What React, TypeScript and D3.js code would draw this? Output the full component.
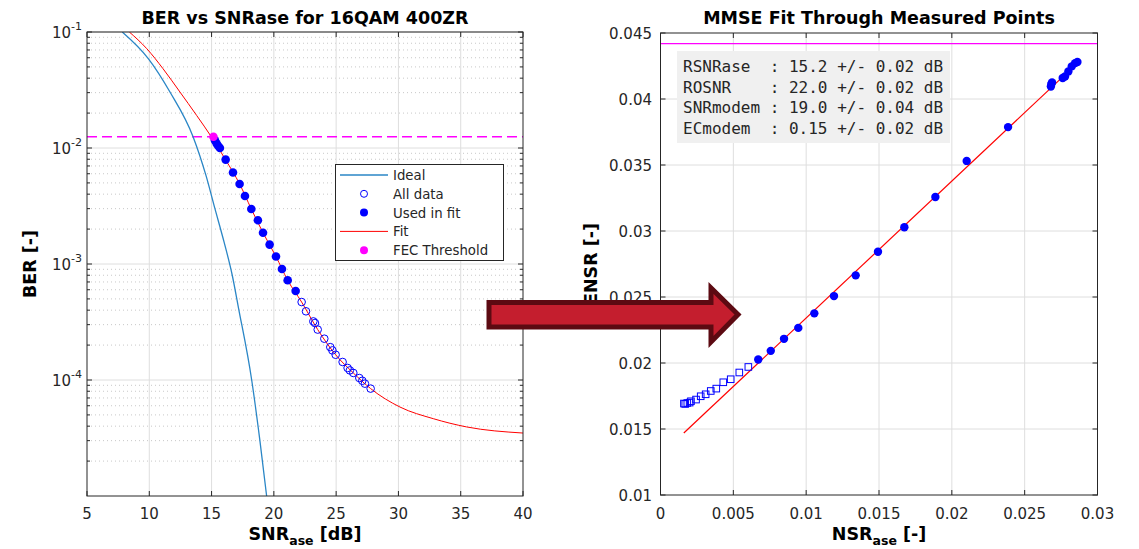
import React from 'react'
import * as d3 from 'd3'

// ---- left plot data (SNRase in dB, BER) ----
const idealSnr = [7.83, 9.92, 11.66, 13.53, 14.55, 15.27, 16.0, 16.66, 17.14, 18.22, 18.88, 19.42]
const idealBer = [0.1, 0.059, 0.0304, 0.0124, 0.0058, 0.003, 0.00155, 0.0008, 0.00043, 0.0001, 0.00003, 0.00001]

const fitSnr = [8.4, 9.8, 11.1, 12.46, 13.8, 15.0, 16.13, 17.25, 18.19, 19.13, 20.17, 21.11, 22.23, 23.52, 24.96, 26.38, 27.77, 30.12, 32.8, 35.47, 40]
const fitBer = [0.1, 0.0718, 0.0483, 0.0304, 0.0191, 0.0124, 0.0079, 0.0049, 0.00298, 0.00186, 0.00116, 0.000724, 0.00047, 0.000272, 0.000165, 0.000115, 0.0000843, 0.0000585, 0.0000464, 0.0000394, 0.0000349]

const usedSnr = [15.27, 15.41, 15.54, 15.67, 16.13, 16.72, 17.25, 17.68, 18.19, 18.72, 19.13, 19.66, 20.17, 20.65, 21.11, 21.75]
const usedBer = [0.01164, 0.01091, 0.0104, 0.01, 0.00794, 0.00614, 0.0049, 0.00386, 0.00298, 0.00238, 0.00186, 0.00147, 0.00116, 0.000906, 0.000724, 0.000585]

const openSnr = [22.23, 22.58, 23.17, 23.52, 24.05, 24.53, 24.96, 25.52, 25.92, 26.38, 26.86, 27.31, 27.77, 23.3, 24.7, 26.1, 27.1]
const openBer = [0.00047, 0.000391, 0.00032, 0.000272, 0.000227, 0.000192, 0.000165, 0.000143, 0.000127, 0.000115, 0.000104, 0.000093, 0.0000843, 0.00031, 0.00018, 0.000121, 0.0000985]

const fecSnr = 15.15
const fecBer = 0.0125

// ---- right plot data (NSRase, ENSR) ----
const usedNsr = [0.00671, 0.00757, 0.00848, 0.00946, 0.01056, 0.01191, 0.0134, 0.01493, 0.01674, 0.01887, 0.02102, 0.02386, 0.02683, 0.0268, 0.02688, 0.02761, 0.02777, 0.028, 0.02823, 0.02846, 0.02862]
const usedEnsr = [0.02027, 0.02092, 0.02183, 0.02266, 0.02376, 0.02507, 0.02664, 0.02843, 0.03028, 0.03258, 0.03531, 0.03787, 0.04113, 0.04095, 0.04125, 0.04159, 0.04171, 0.04209, 0.04247, 0.04272, 0.0428]

const openNsr = [0.00161, 0.0017, 0.00184, 0.002, 0.00209, 0.00244, 0.00276, 0.0031, 0.00345, 0.00383, 0.00431, 0.00482, 0.00541, 0.00603]
const openEnsr = [0.01693, 0.0169, 0.01697, 0.017, 0.0171, 0.01723, 0.01748, 0.01763, 0.01788, 0.01806, 0.01854, 0.01877, 0.01928, 0.0197]

const lineNsr = [0.0016, 0.0286]
const lineEnsr = [0.0147, 0.0427]
const fecEnsr = 0.04419

const resultLines = [
  'RSNRase  : 15.2 +/- 0.02 dB',
  'ROSNR    : 22.0 +/- 0.02 dB',
  'SNRmodem : 19.0 +/- 0.04 dB',
  'ECmodem  : 0.15 +/- 0.02 dB',
]
const legendItems = ['Ideal', 'All data', 'Used in fit', 'Fit', 'FEC Threshold']

const xLeftTicks = [5, 10, 15, 20, 25, 30, 35, 40]
const yLeftExp = [-1, -2, -3, -4]
const xRightTicks = [0, 0.005, 0.01, 0.015, 0.02, 0.025, 0.03]
const yRightTicks = [0.01, 0.015, 0.02, 0.025, 0.03, 0.035, 0.04, 0.045]

const FONT = 'DejaVu Sans'
const AX = '#262626'
const GRID = '#dedede'
const IDEAL = '#2a86c6'

export default function App() {
  const xL = d3.scaleLinear().domain([5, 40]).range([87, 523])
  const yL = d3.scaleLog().domain([1e-5, 1e-1]).range([496, 32])
  const xR = d3.scaleLinear().domain([0, 0.03]).range([660.5, 1097.5])
  const yR = d3.scaleLinear().domain([0.01, 0.045]).range([495, 33])

  const lineL = d3.line<[number, number]>()
    .x(d => xL(d[0])).y(d => yL(d[1]))
    .curve(d3.curveMonotoneX)
  const lineR = d3.line<[number, number]>().x(d => xR(d[0])).y(d => yR(d[1]))

  const idealPath = lineL(idealSnr.map((s, i) => [s, idealBer[i]]))
  const fitPath = lineL(fitSnr.map((s, i) => [s, fitBer[i]]))
  const rightFit = lineR(lineNsr.map((s, i) => [s, lineEnsr[i]]))

  // minor log grid values
  const minor: number[] = []
  for (let e = -5; e < -1; e++) for (let m = 2; m <= 9; m++) minor.push(m * Math.pow(10, e))

  const [l0, l1] = xL.range()
  const [lb, lt] = yL.range()
  const [r0, r1] = xR.range()
  const [rb, rt] = yR.range()
  const tk = 5

  return (
    <svg width={1139} height={549} style={{ position: 'absolute', left: 0, top: 0, background: '#fff' }}
      fontFamily={FONT}>
      <defs>
        <clipPath id="clipL"><rect x={l0} y={lt} width={l1 - l0} height={lb - lt} /></clipPath>
      </defs>

      {/* ===== left plot ===== */}
      <g>
        {minor.map(v => (
          <line key={'mg' + v} x1={l0} x2={l1} y1={yL(v)} y2={yL(v)} stroke="#c8c8c8" strokeDasharray="1,3" />
        ))}
        {xLeftTicks.slice(1, -1).map(t => (
          <line key={'gx' + t} x1={xL(t)} x2={xL(t)} y1={lt} y2={lb} stroke={GRID} />
        ))}
        {yLeftExp.map(e => (
          <line key={'gy' + e} x1={l0} x2={l1} y1={yL(Math.pow(10, e))} y2={yL(Math.pow(10, e))} stroke={GRID} />
        ))}

        <g clipPath="url(#clipL)">
          <line x1={l0} x2={l1} y1={yL(fecBer)} y2={yL(fecBer)} stroke="#ff00ff" strokeWidth={1.3} strokeDasharray="10,5" />
          <path d={idealPath ?? ''} fill="none" stroke={IDEAL} strokeWidth={1.3} />
          <path d={fitPath ?? ''} fill="none" stroke="#ff0000" strokeWidth={1} />
        </g>

        {openSnr.map((s, i) => (
          <circle key={'o' + i} cx={xL(s)} cy={yL(openBer[i])} r={3.8} fill="none" stroke="#0000ff" strokeWidth={1} />
        ))}
        {usedSnr.map((s, i) => (
          <circle key={'u' + i} cx={xL(s)} cy={yL(usedBer[i])} r={4.3} fill="#0000ff" />
        ))}
        <circle cx={xL(fecSnr)} cy={yL(fecBer)} r={4.3} fill="#ff00ff" />

        {/* axes box + ticks */}
        <rect x={l0} y={lt} width={l1 - l0} height={lb - lt} fill="none" stroke={AX} strokeWidth={1} />
        {xLeftTicks.map(t => (
          <g key={'xt' + t}>
            <line x1={xL(t)} x2={xL(t)} y1={lb} y2={lb - tk} stroke={AX} />
            <line x1={xL(t)} x2={xL(t)} y1={lt} y2={lt + tk} stroke={AX} />
            <text x={xL(t)} y={519} textAnchor="middle" fontSize={15} fill={AX}>{t}</text>
          </g>
        ))}
        {minor.map(v => (
          <g key={'mt' + v}>
            <line x1={l0} x2={l0 + 3} y1={yL(v)} y2={yL(v)} stroke={AX} />
            <line x1={l1} x2={l1 - 3} y1={yL(v)} y2={yL(v)} stroke={AX} />
          </g>
        ))}
        {yLeftExp.map(e => {
          const y = yL(Math.pow(10, e))
          return (
            <g key={'yt' + e}>
              <line x1={l0} x2={l0 + tk} y1={y} y2={y} stroke={AX} />
              <line x1={l1} x2={l1 - tk} y1={y} y2={y} stroke={AX} />
              <text x={82} y={y + 6} textAnchor="end" fontSize={15} fill={AX}>
                10<tspan fontSize={11} dy={-8}>{e}</tspan>
              </text>
            </g>
          )
        })}

        <text x={(l0 + l1) / 2} y={24} textAnchor="middle" fontSize={17.5} fontWeight="bold" fill="#000">
          BER vs SNRase for 16QAM 400ZR
        </text>
        <text x={(l0 + l1) / 2} y={540} textAnchor="middle" fontSize={17.5} fontWeight="bold" fill="#000">
          SNR<tspan fontSize={12.5} dy={5}>ase</tspan><tspan dy={-5}> [dB]</tspan>
        </text>
        <text transform={`translate(36,${(lt + lb) / 2}) rotate(-90)`} textAnchor="middle" fontSize={17.5} fontWeight="bold" fill="#000">
          BER [-]
        </text>

        {/* legend */}
        <g>
          <rect x={335.5} y={164.5} width={168} height={96} fill="#fff" stroke={AX} strokeWidth={1} />
          {legendItems.map((name, i) => {
            const y = 175 + i * 18.8
            return (
              <g key={name}>
                {i === 0 && <line x1={340} x2={388} y1={y} y2={y} stroke={IDEAL} strokeWidth={1.3} />}
                {i === 1 && <circle cx={364} cy={y} r={3.5} fill="none" stroke="#0000ff" />}
                {i === 2 && <circle cx={364} cy={y} r={4} fill="#0000ff" />}
                {i === 3 && <line x1={340} x2={388} y1={y} y2={y} stroke="#ff0000" />}
                {i === 4 && <circle cx={364} cy={y} r={4} fill="#ff00ff" />}
                <text x={393} y={y + 5} fontSize={13.3} fill={AX}>{name}</text>
              </g>
            )
          })}
        </g>
      </g>

      {/* ===== right plot ===== */}
      <g>
        {xRightTicks.slice(1, -1).map(t => (
          <line key={'rgx' + t} x1={xR(t)} x2={xR(t)} y1={rt} y2={rb} stroke={GRID} />
        ))}
        {yRightTicks.slice(1, -1).map(t => (
          <line key={'rgy' + t} x1={r0} x2={r1} y1={yR(t)} y2={yR(t)} stroke={GRID} />
        ))}

        <line x1={r0} x2={r1} y1={yR(fecEnsr)} y2={yR(fecEnsr)} stroke="#ff00ff" strokeWidth={1.2} />

        <rect x={677} y={51} width={273} height={92} fill="#f0f0f0" />
        {resultLines.map((s, i) => (
          <text key={s} x={683} y={72 + i * 20.5} fontFamily="DejaVu Sans Mono" fontSize={16} fill={AX}
            style={{ whiteSpace: 'pre' }}>{s}</text>
        ))}

        <path d={rightFit ?? ''} fill="none" stroke="#ff0000" strokeWidth={1.2} />
        {openNsr.map((s, i) => (
          <rect key={'rs' + i} x={xR(s) - 3.3} y={yR(openEnsr[i]) - 3.3} width={6.6} height={6.6}
            fill="none" stroke="#0000ff" strokeWidth={1} />
        ))}
        {usedNsr.map((s, i) => (
          <circle key={'ru' + i} cx={xR(s)} cy={yR(usedEnsr[i])} r={4.2} fill="#0000ff" />
        ))}

        <rect x={r0} y={rt} width={r1 - r0} height={rb - rt} fill="none" stroke={AX} strokeWidth={1} />
        {xRightTicks.map(t => (
          <g key={'rxt' + t}>
            <line x1={xR(t)} x2={xR(t)} y1={rb} y2={rb - tk} stroke={AX} />
            <line x1={xR(t)} x2={xR(t)} y1={rt} y2={rt + tk} stroke={AX} />
            <text x={xR(t)} y={519} textAnchor="middle" fontSize={15} fill={AX}>{String(t)}</text>
          </g>
        ))}
        {yRightTicks.map(t => (
          <g key={'ryt' + t}>
            <line x1={r0} x2={r0 + tk} y1={yR(t)} y2={yR(t)} stroke={AX} />
            <line x1={r1} x2={r1 - tk} y1={yR(t)} y2={yR(t)} stroke={AX} />
            <text x={652} y={yR(t) + 5.5} textAnchor="end" fontSize={15} fill={AX}>{String(t)}</text>
          </g>
        ))}

        <text x={(r0 + r1) / 2} y={24} textAnchor="middle" fontSize={17.5} fontWeight="bold" fill="#000">
          MMSE Fit Through Measured Points
        </text>
        <text x={(r0 + r1) / 2} y={540} textAnchor="middle" fontSize={17.5} fontWeight="bold" fill="#000">
          NSR<tspan fontSize={12.5} dy={5}>ase</tspan><tspan dy={-5}> [-]</tspan>
        </text>
        <text transform={`translate(597,${(rt + rb) / 2}) rotate(-90)`} textAnchor="middle" fontSize={17.5} fontWeight="bold" fill="#000">
          ENSR [-]
        </text>
      </g>

      {/* arrow */}
      <polygon points="489,302.5 711,302.5 711,288 738,314.5 711,342 711,327 489,327"
        fill="#c41e2e" stroke="#5c0a12" strokeWidth={5} strokeLinejoin="miter" />
    </svg>
  )
}
